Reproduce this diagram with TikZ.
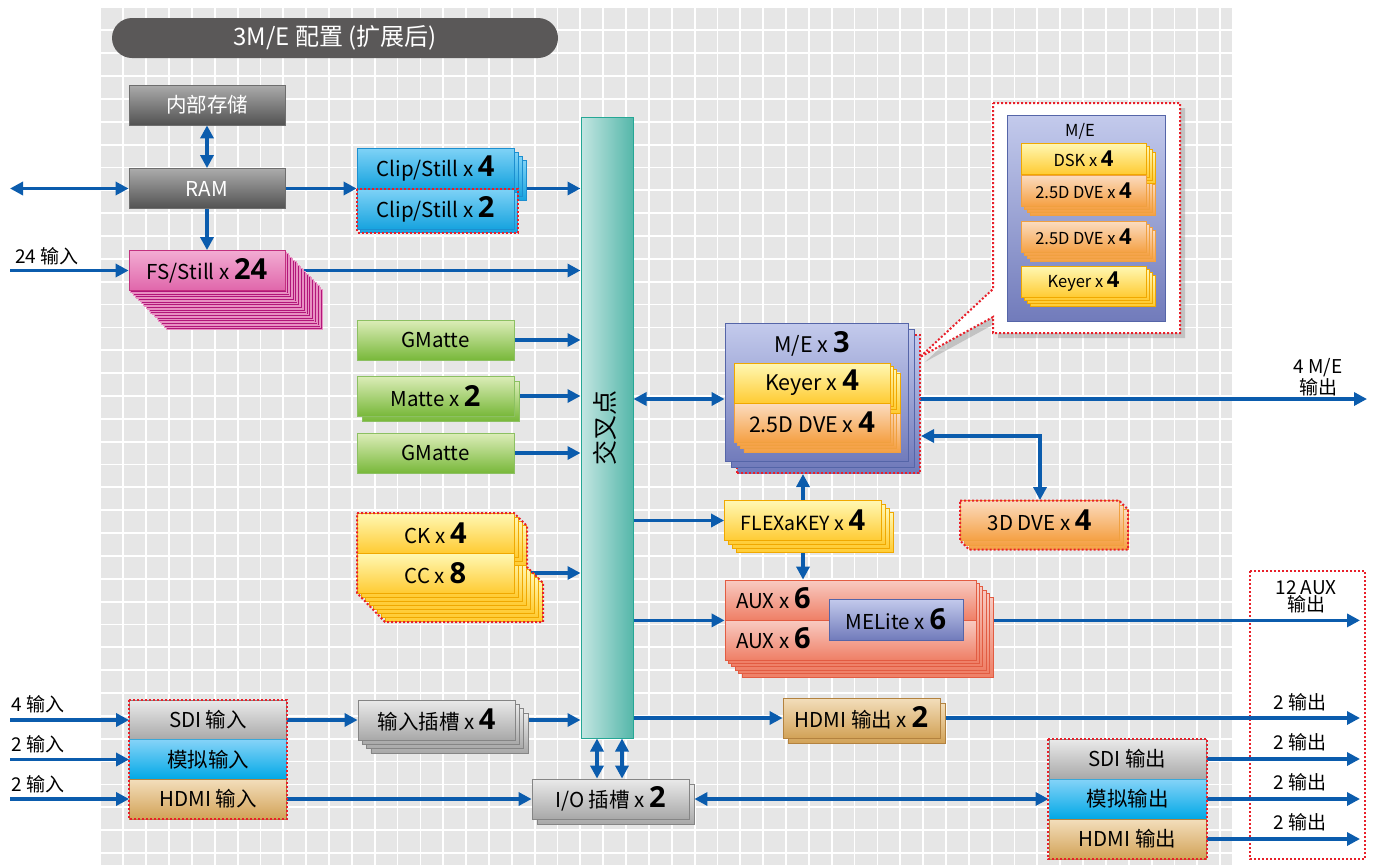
\documentclass[tikz,border=0pt]{standalone}
\usepackage{fontspec}
\setmainfont{Noto Sans CJK SC}
\newfontfamily\numfont{Open Sans}
\usetikzlibrary{arrows.meta,shadows}
\pgfdeclarelayer{gridlayer}
\pgfdeclarelayer{arrowlayer}
\pgfsetlayers{gridlayer,arrowlayer,main}
\definecolor{gridbg}{HTML}{E6E6E6}
\definecolor{titlegray}{HTML}{5A5858}
\definecolor{arrowblue}{HTML}{0B5CAD}
\definecolor{dotred}{HTML}{E8202A}
\definecolor{dgT}{HTML}{ABABAB}
\definecolor{dgB}{HTML}{525252}
\definecolor{dgD}{HTML}{6E6E6E}
\definecolor{cbT}{HTML}{7ED2F6}
\definecolor{cbB}{HTML}{17A3DF}
\definecolor{cbD}{HTML}{1C8FD0}
\definecolor{pkT}{HTML}{F2ACD2}
\definecolor{pkB}{HTML}{E066AA}
\definecolor{pkD}{HTML}{C2307F}
\definecolor{pkS}{HTML}{B2167A}
\definecolor{pkL}{HTML}{E890C2}
\definecolor{grT}{HTML}{DCEDB9}
\definecolor{grB}{HTML}{78B83A}
\definecolor{grD}{HTML}{8CC062}
\definecolor{ywT}{HTML}{FFF8B4}
\definecolor{ywB}{HTML}{FFCB33}
\definecolor{ywD}{HTML}{F0A800}
\definecolor{orT}{HTML}{FBDCC0}
\definecolor{orB}{HTML}{F5A043}
\definecolor{orD}{HTML}{F0A040}
\definecolor{rdT}{HTML}{F8CBC2}
\definecolor{rdB}{HTML}{EF7F66}
\definecolor{rdD}{HTML}{E25C42}
\definecolor{puT}{HTML}{C3CAEC}
\definecolor{puB}{HTML}{717BBB}
\definecolor{puD}{HTML}{5565A8}
\definecolor{lgT}{HTML}{EAEAEA}
\definecolor{lgB}{HTML}{A8A8A8}
\definecolor{lgD}{HTML}{858585}
\definecolor{abT}{HTML}{85D3F8}
\definecolor{abB}{HTML}{00A8E6}
\definecolor{abD}{HTML}{3AA8D8}
\definecolor{tnT}{HTML}{F3DEBC}
\definecolor{tnB}{HTML}{D2A257}
\definecolor{tnD}{HTML}{B3823F}
\definecolor{tlL}{HTML}{C4E6E2}
\definecolor{tlR}{HTML}{55B7AA}
\definecolor{tlD}{HTML}{25A795}
\newcommand\bnum[1]{{\fontsize{29}{29}\selectfont\numfont\bfseries #1}}
\newcommand\snum[1]{{\fontsize{22}{22}\selectfont\numfont\bfseries #1}}
\newcommand\layers[5]{\foreach \lk in {#4,...,1}{\node[#1] at ({#2+\lk*#5},{#3+\lk*#5}) {};}}
\tikzset{
 bx/.style={draw, line width=0.8pt, inner sep=0pt, minimum width=157, minimum height=40, font=\fontsize{20.5}{22}\selectfont},
 dgray/.style={bx, top color=dgT, bottom color=dgB, draw=dgD, text=white},
 cblue/.style={bx, top color=cbT, bottom color=cbB, draw=cbD},
 pinkbox/.style={bx, top color=pkT, bottom color=pkB, draw=pkD},
 pinkl/.style={bx, fill=pkS, draw=pkL, line width=0.6pt},
 grbox/.style={bx, top color=grT, bottom color=grB, draw=grD},
 ybox/.style={bx, top color=ywT, bottom color=ywB, draw=ywD},
 obox/.style={bx, top color=orT, bottom color=orB, draw=orD},
 rbox/.style={bx, top color=rdT, bottom color=rdB, draw=rdD},
 pubox/.style={bx, top color=puT, bottom color=puB, draw=puD},
 lgbox/.style={bx, top color=lgT, bottom color=lgB, draw=lgD},
 abox/.style={bx, top color=abT, bottom color=abB, draw=abD},
 tbox/.style={bx, top color=tnT, bottom color=tnB, draw=tnD},
 sbox/.style={minimum width=125, minimum height=31, font=\fontsize{16.5}{18}\selectfont},
 arr/.style={draw=arrowblue, line width=3.5pt, -{Triangle[length=13pt,width=13pt]}},
 darr/.style={draw=arrowblue, line width=3.5pt, {Triangle[length=13pt,width=13pt]}-{Triangle[length=13pt,width=13pt]}},
 reddot/.style={draw=dotred, line width=2pt, dash pattern=on 2pt off 2pt},
 lab/.style={font=\fontsize{19}{17}\selectfont, inner sep=0pt, align=center},
}
\begin{document}
\begin{tikzpicture}[x=1pt,y=-1pt]
\useasboundingbox (0,0) rectangle (1378,865);
\begin{pgfonlayer}{gridlayer}
\fill[white] (0,0) rectangle (1378,865);
\fill[gridbg] (101,8) rectangle (1232,865);
\begin{scope}
\clip (101,8) rectangle (1232,865);
\foreach \gi in {0,...,50} \draw[white, line width=1.8pt] ({100.5+22.85*\gi},8) -- ({100.5+22.85*\gi},865);
\foreach \gj in {0,...,38} \draw[white, line width=1.8pt] (101,{7.5+22.85*\gj}) -- (1232,{7.5+22.85*\gj});
\end{scope}
\end{pgfonlayer}

% title
\node[fill=titlegray, rounded corners=20pt, minimum width=446, minimum height=40, inner sep=0pt, text=white, font=\fontsize{24}{24}\selectfont] (title) at (335,38) {3M/E 配置 (扩展后)};

% storage / RAM
\node[dgray, minimum width=156] (store) at (207,105) {内部存储};
\node[dgray, minimum width=156] (ram) at (207,188.5) {RAM};

% clip/still
\layers{cblue}{435.5}{168.5}{3}{4}
\node[cblue] (clip2b) at (438.5,212) {};
\node[cblue] (clip2) at (435.5,209) {Clip/Still x \bnum{2}};
\node[cblue] (clip4) at (435.5,168.5) {Clip/Still x \bnum{4}};
\draw[reddot] (357,189) rectangle (518,232.5);

% FS/Still
\foreach \lk in {24,...,1}{\node[pinkl, minimum width=156] at ({207+\lk*1.55},{270.5+\lk*1.6}) {};}
\node[pinkbox, minimum width=156] (fs) at (207,270.5) {FS/Still x \bnum{24}};

% mattes
\node[grbox] (gm1) at (435.5,340) {GMatte};
\node[grbox] (matteb) at (440.5,401) {};
\node[grbox] (matte) at (435.5,396) {Matte x \bnum{2}};
\node[grbox] (gm2) at (435.5,453) {GMatte};

% CK / CC
\layers{ybox}{435.5}{573}{7}{4}
\layers{ybox}{435.5}{533}{3}{4}
\node[ybox] (cc) at (435.5,573) {CC x \bnum{8}};
\node[ybox] (ck) at (435.5,533) {CK x \bnum{4}};
\draw[reddot] (357,513) -- (514,513) -- (527,526) -- (527,567) -- (543,583) -- (543,622) -- (385,622) -- (357,593) -- cycle;

% crosspoint
\node[draw=tlD, line width=1pt, left color=tlL, right color=tlR, minimum width=52, minimum height=621, inner sep=0pt] (xp) at (607,427.5) {};
\node[rotate=90, font=\fontsize{25}{25}\selectfont, inner sep=0pt] (xpt) at (605,428) {交叉点};

% M/E
\node[pubox, reddot, minimum width=183, minimum height=138] (meb) at (828.5,404) {};
\node[pubox, minimum width=183, minimum height=138] (mem) at (822.5,398) {};
\node[pubox, minimum width=183, minimum height=138] (me) at (816.5,392.5) {};
\node[font=\fontsize{21.5}{22}\selectfont, inner sep=0pt] (met) at (812,344) {M/E x \bnum{3}};
\layers{obox,minimum width=156,minimum height=39}{812}{422.5}{3}{3.3}
\layers{ybox,minimum width=156}{812}{383}{3}{3.3}
\node[obox, minimum width=156, minimum height=39, font=\fontsize{21.5}{22}\selectfont] (dve) at (812,422.5) {2.5D DVE x \bnum{4}};
\node[ybox, minimum width=156, font=\fontsize{21.5}{22}\selectfont] (keyer) at (812,383) {Keyer x \bnum{4}};

% callout
\draw[reddot, fill=white, drop shadow={shadow xshift=5pt, shadow yshift=-5pt, opacity=0.35}] (993,103) -- (1180,103) -- (1180,333) -- (993,333) -- (993,317) -- (920,357) -- (993,289) -- cycle;
\node[pubox, minimum width=158, minimum height=206] (cme) at (1086,218) {};
\node[font=\fontsize{16.5}{17}\selectfont, inner sep=0pt] (cmet) at (1080,131) {M/E};
\layers{obox,sbox}{1083.5}{190.5}{3}{3}
\layers{ybox,sbox}{1083.5}{158.5}{3}{3}
\node[obox,sbox] (cd1) at (1083.5,190.5) {2.5D DVE x \snum{4}};
\node[ybox,sbox] (cdsk) at (1083.5,158.5) {DSK x \snum{4}};
\layers{obox,sbox}{1083.5}{237}{3}{3}
\node[obox,sbox] (cd2) at (1083.5,237) {2.5D DVE x \snum{4}};
\layers{ybox,sbox}{1083.5}{281.5}{3}{3}
\node[ybox,sbox] (ckey) at (1083.5,281.5) {Keyer x \snum{4}};

% FLEXaKEY
\layers{ybox}{803}{520.5}{3}{4}
\node[ybox, font=\fontsize{19.5}{22}\selectfont] (flex) at (803,520.5) {FLEXaKEY x \bnum{4}};

% 3D DVE
\layers{obox,minimum width=159}{1039.5}{520.5}{2}{4.5}
\node[obox, minimum width=159] (dve3) at (1039.5,520.5) {3D DVE x \bnum{4}};
\draw[reddot] (960,500.5) -- (1119,500.5) -- (1128,509.5) -- (1128,549.5) -- (969,549.5) -- (960,540.5) -- cycle;

% AUX
\layers{rbox,minimum width=251,minimum height=80}{850.5}{620}{5}{3.4}
\node[rbox, minimum width=251] (aux2) at (850.5,640) {};
\node[rbox, minimum width=251] (aux1) at (850.5,600) {};
\node[anchor=west, font=\fontsize{20.5}{22}\selectfont, inner sep=0pt] (auxt1) at (736,598) {AUX x \bnum{6}};
\node[anchor=west, font=\fontsize{20.5}{22}\selectfont, inner sep=0pt] (auxt2) at (736,638) {AUX x \bnum{6}};
\node[pubox, minimum width=134, minimum height=41] (melite) at (896,619.5) {MELite x \bnum{6}};

% HDMI out x2
\node[tbox] (hdmio2b) at (866.5,723) {};
\node[tbox] (hdmio2) at (861.5,718) {HDMI 输出 x \bnum{2}};

% inputs
\node[lgbox] (sdiin) at (208,720) {SDI 输入};
\node[abox] (anin) at (208,759.5) {模拟输入};
\node[tbox] (hdmiin) at (208,799) {HDMI 输入};
\draw[reddot] (129,700) rectangle (287,819);

% slots
\layers{lgbox}{436.5}{720}{3}{4.3}
\node[lgbox] (slot) at (436.5,720) {输入插槽 x \bnum{4}};
\node[lgbox] (iob) at (615.5,804) {};
\node[lgbox] (io) at (610.5,799) {I/O 插槽 x \bnum{2}};

% outputs
\node[lgbox] (sdiout) at (1127.5,759) {SDI 输出};
\node[abox] (anout) at (1127.5,799) {模拟输出};
\node[tbox] (hdmiout) at (1127.5,839) {HDMI 输出};
\draw[reddot] (1048,739) rectangle (1207,859);

% labels
\node[lab] (l24) at (47,256) {24 输入};
\node[lab] (l4i) at (38,704) {4 输入};
\node[lab] (l2i) at (38,744) {2 输入};
\node[lab] (l3i) at (38,784) {2 输入};
\node[lab] (lo1) at (1300,702) {2 输出};
\node[lab] (lo2) at (1300,742) {2 输出};
\node[lab] (lo3) at (1300,782) {2 输出};
\node[lab] (lo4) at (1300,822) {2 输出};
\node[lab] (l12) at (1306,597) {12 AUX\\输出};
\node[lab] (lme) at (1318,377) {4 M/E\\输出};

% connectors
\begin{pgfonlayer}{arrowlayer}
\draw[reddot] (1250,571) rectangle (1365,859);
\coordinate (rl) at (10,188.5);
\draw[darr] (rl) -- (ram.west);
\draw[darr] (store.south) -- (ram.north);
\draw[arr] (ram.east) -- (ram.east -| clip4.west);
\draw[arr] (ram.east -| clip4.east) -- (ram.east -| xp.west);
\draw[arr] (ram.south) -- (fs.north);
\coordinate (fi) at (10,270.5);
\draw[arr] (fi) -- (fs.west);
\draw[arr] (fs.east) -- (fs.east -| xp.west);
\draw[arr] (gm1.east) -- (gm1.east -| xp.west);
\draw[arr] (matte.east) -- (matte.east -| xp.west);
\draw[arr] (gm2.east) -- (gm2.east -| xp.west);
\draw[arr] (cc.east) -- (cc.east -| xp.west);
\coordinate (meo) at (1367,399);
\draw[darr] (xp.east |- meo) -- (me.west |- meo);
\draw[arr] (me.east |- meo) -- (meo);
\coordinate (c3d) at (1040,436);
\draw[darr] (meb.east |- c3d) -- (c3d) -- (dve3.north -| c3d);
\draw[arr] (xp.east |- flex.west) -- (flex.west);
\draw[arr] (flex.north) -- (flex.north |- meb.south);
\draw[arr] (flex.south) -- (flex.south |- aux1.north);
\draw[arr] (xp.east |- aux1.south) -- (aux1.south west);
\coordinate (oe) at (1360,0);
\draw[arr] (aux1.south east) -- (aux1.south east -| oe);
\draw[arr] (xp.east |- hdmio2.west) -- (hdmio2.west);
\draw[arr] (hdmio2.east) -- (hdmio2.east -| oe);
\draw[arr] (sdiout.east) -- (sdiout.east -| oe);
\draw[arr] (anout.east) -- (anout.east -| oe);
\draw[arr] (hdmiout.east) -- (hdmiout.east -| oe);
\coordinate (i1) at (10,720);
\coordinate (i2) at (10,759.5);
\coordinate (i3) at (10,799);
\draw[arr] (i1) -- (sdiin.west);
\draw[arr] (i2) -- (anin.west);
\draw[arr] (i3) -- (hdmiin.west);
\draw[arr] (sdiin.east) -- (slot.west);
\draw[arr] (slot.east) -- (slot.east -| xp.west);
\draw[arr] (hdmiin.east) -- (io.west);
\coordinate (v1) at (597,0);
\coordinate (v2) at (622,0);
\draw[darr] (xp.south -| v1) -- (io.north -| v1);
\draw[darr] (xp.south -| v2) -- (io.north -| v2);
\draw[darr] (iob.east |- io.east) -- (anout.west);
\end{pgfonlayer}
\end{tikzpicture}
\end{document}
